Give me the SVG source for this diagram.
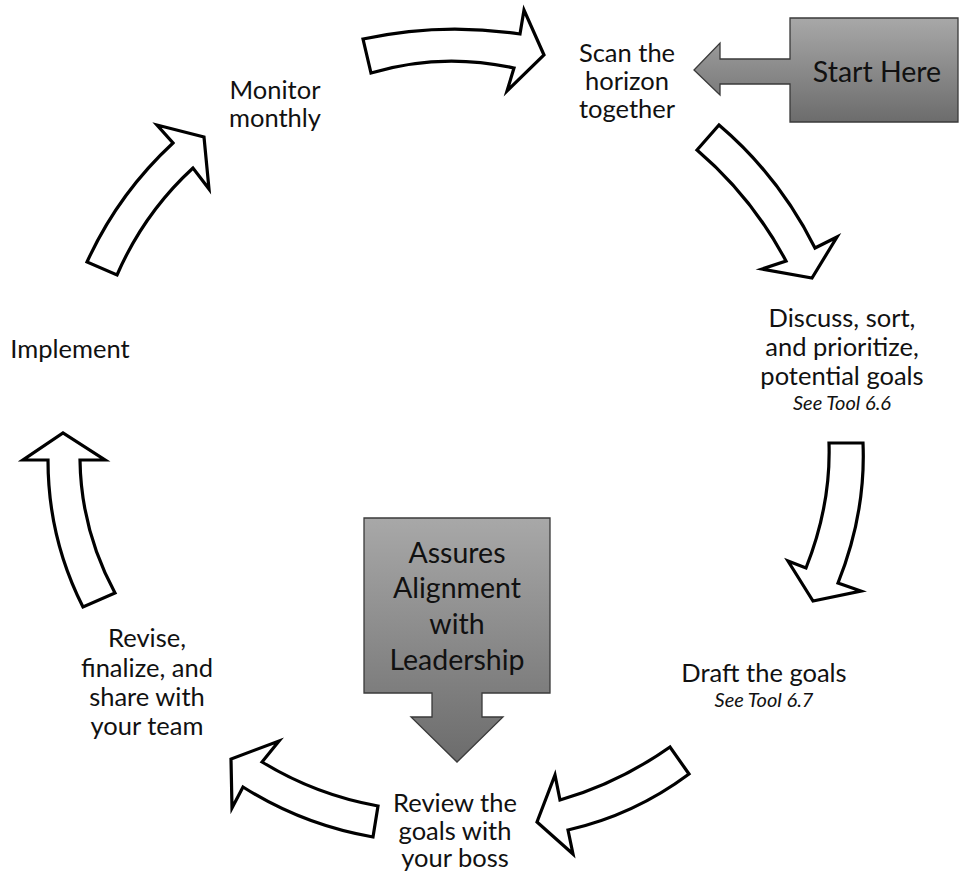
<svg xmlns="http://www.w3.org/2000/svg" width="959" height="876" viewBox="0 0 959 876">
  <defs>
    <linearGradient id="calloutFill" x1="0" y1="0" x2="0" y2="1">
      <stop offset="0" stop-color="#a8a8a8"/>
      <stop offset="1" stop-color="#6c6c6c"/>
    </linearGradient>
    <style>
      .lbl { font-family: "Lato", "Liberation Sans", sans-serif; font-size: 25.5px; fill: #111; text-anchor: middle; }
      .ref { font-family: "Lato", "Liberation Sans", sans-serif; font-size: 20px; font-style: italic; fill: #111; text-anchor: middle; }
      .big { font-family: "Lato", "Liberation Sans", sans-serif; font-size: 28.5px; fill: #111; text-anchor: middle; }
      .flow { fill: #fff; stroke: #000; stroke-width: 3.2; stroke-linejoin: miter; stroke-miterlimit: 10; }
      .callout { fill: url(#calloutFill); stroke: #3a3a3a; stroke-width: 1.3; }
    </style>
  </defs>
  <rect width="959" height="876" fill="#fff"/>

  <!-- curved block arrows forming the cycle -->
  <g id="connectors">
    <path class="flow" d="M363,39 Q441,22 520,34 L524,10 L544,55 L507,91 L514,68 Q441,52 371,73 Z"/>
    <path class="flow" d="M719,125 Q779,176 815,248 L837,237 L812,278 L762,269 L786,261 Q752,197 697,150 Z"/>
    <path class="flow" d="M829,443 L863,443 Q866,513 838,583 L861,591 L813,601 L788,561 L806,568 Q831,505 829,443 Z"/>
    <path class="flow" d="M670,747 Q619,783 560,800 L555,775 L537,822 L573,854 L568,830 Q634,815 689,774 Z"/>
    <path class="flow" d="M378,806 Q316,795 262,762 L279,741 L231,759 L232,808 L243,787 Q303,825 373,837 Z"/>
    <path class="flow" d="M83,607 Q48,538 48,460 L23,460 L63,433 L105,460 L80,460 Q81,530 115,593 Z"/>
    <path class="flow" d="M87,262 Q118,194 173,143 L157,125 L204,137 L209,189 L193,168 Q144,213 117,275 Z"/>
  </g>

  <!-- cycle steps -->
  <g id="scan">
    <text class="lbl" x="627" y="62">Scan the</text>
    <text class="lbl" x="627" y="90">horizon</text>
    <text class="lbl" x="627" y="118">together</text>
  </g>
  <g id="discuss">
    <text class="lbl" x="842" y="327">Discuss, sort,</text>
    <text class="lbl" x="842" y="356">and prioritize,</text>
    <text class="lbl" x="842" y="385">potential goals</text>
    <text class="ref" x="842" y="410">See Tool 6.6</text>
  </g>
  <g id="draft">
    <text class="lbl" x="764" y="682">Draft the goals</text>
    <text class="ref" x="764" y="707">See Tool 6.7</text>
  </g>
  <g id="review">
    <text class="lbl" x="455" y="812">Review the</text>
    <text class="lbl" x="455" y="840">goals with</text>
    <text class="lbl" x="455" y="867">your boss</text>
  </g>
  <g id="revise">
    <text class="lbl" x="147" y="647">Revise,</text>
    <text class="lbl" x="147" y="677">finalize, and</text>
    <text class="lbl" x="147" y="706">share with</text>
    <text class="lbl" x="147" y="735">your team</text>
  </g>
  <g id="implement">
    <text class="lbl" x="70" y="358">Implement</text>
  </g>
  <g id="monitor">
    <text class="lbl" x="275" y="99">Monitor</text>
    <text class="lbl" x="275" y="127">monthly</text>
  </g>

  <!-- grey callouts -->
  <g id="start-here">
    <path class="callout" d="M790,18 L958,18 L958,122 L790,122 L790,84 L720,84 L720,95 L694,70 L720,43 L720,59 L790,59 Z"/>
    <text class="big" x="877" y="82">Start Here</text>
  </g>
  <g id="alignment">
    <path class="callout" d="M364,518 L550,518 L550,693 L482,693 L482,717 L503,717 L457,762 L411,717 L432,717 L432,693 L364,693 Z"/>
    <text class="big" x="457" y="563">Assures</text>
    <text class="big" x="457" y="598">Alignment</text>
    <text class="big" x="457" y="634">with</text>
    <text class="big" x="457" y="670">Leadership</text>
  </g>
</svg>
